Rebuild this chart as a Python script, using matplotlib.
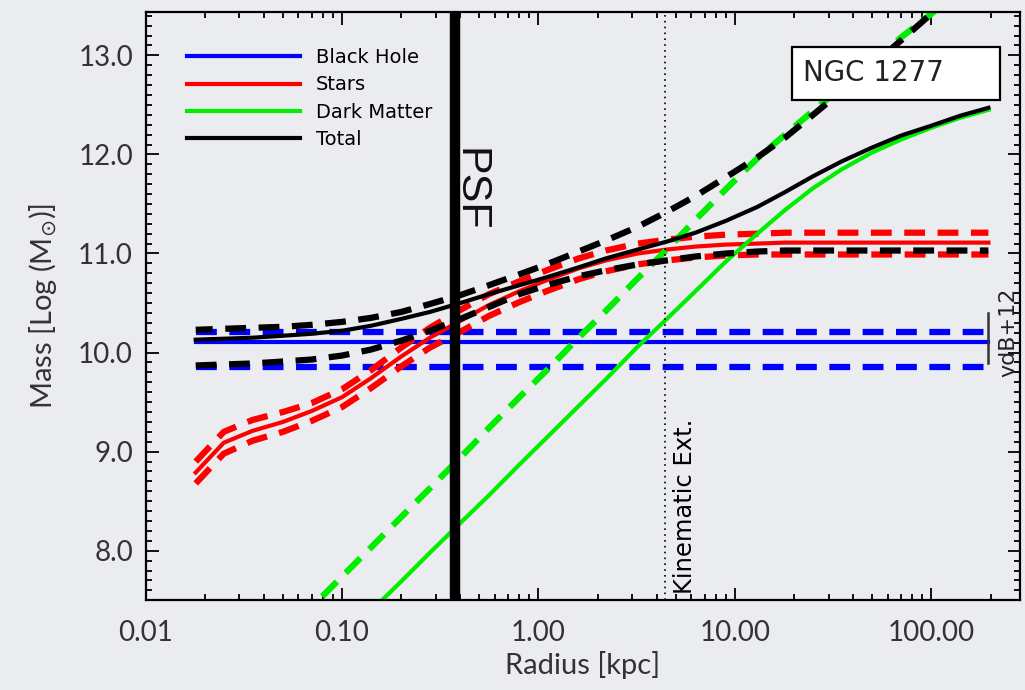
import numpy as np
import matplotlib.pyplot as plt
from matplotlib.ticker import FixedLocator, FormatStrFormatter, MultipleLocator, LogLocator, NullFormatter

# radius grid (kpc) and log mass profiles
radius = [0.018, 0.025, 0.035, 0.05, 0.07, 0.1, 0.14, 0.2, 0.28, 0.4, 0.56, 0.8, 1.1, 1.6,
          2.2, 3.2, 4.5, 6.3, 9, 13, 18, 25, 35, 50, 70, 100, 140, 195]

stars = [8.79, 9.09, 9.21, 9.30, 9.41, 9.55, 9.74, 9.96, 10.15, 10.32, 10.48, 10.62, 10.73, 10.85,
         10.93, 11.00, 11.04, 11.07, 11.09, 11.10, 11.11, 11.11, 11.11, 11.11, 11.11, 11.11, 11.11, 11.11]
stars_hi = [8.90, 9.20, 9.32, 9.40, 9.49, 9.63, 9.82, 10.05, 10.25, 10.43, 10.59, 10.72, 10.83, 10.95,
            11.03, 11.10, 11.14, 11.17, 11.19, 11.20, 11.21, 11.21, 11.21, 11.21, 11.21, 11.21, 11.21, 11.21]
stars_lo = [8.68, 8.98, 9.11, 9.20, 9.31, 9.45, 9.64, 9.86, 10.05, 10.21, 10.37, 10.51, 10.62, 10.74,
            10.82, 10.89, 10.93, 10.96, 10.98, 10.99, 10.99, 10.99, 10.99, 10.99, 10.99, 10.99, 10.99, 10.99]

dm = [5.65, 5.93, 6.22, 6.52, 6.81, 7.11, 7.39, 7.69, 7.98, 8.28, 8.56, 8.87, 9.14, 9.46,
      9.73, 10.06, 10.34, 10.62, 10.92, 11.20, 11.44, 11.66, 11.85, 12.02, 12.15, 12.27, 12.37, 12.45]
dm_hi = [6.25, 6.54, 6.83, 7.14, 7.43, 7.74, 8.03, 8.34, 8.63, 8.94, 9.24, 9.55, 9.82, 10.15,
         10.42, 10.75, 11.04, 11.34, 11.65, 11.96, 12.20, 12.44, 12.68, 12.93, 13.18, 13.42, 13.66, 13.90]

total = [10.13, 10.14, 10.15, 10.17, 10.19, 10.22, 10.27, 10.34, 10.41, 10.50, 10.59, 10.68, 10.76, 10.86,
         10.95, 11.04, 11.12, 11.21, 11.33, 11.47, 11.62, 11.78, 11.93, 12.07, 12.19, 12.29, 12.39, 12.47]
total_hi = [10.23, 10.24, 10.25, 10.26, 10.28, 10.31, 10.35, 10.41, 10.49, 10.58, 10.68, 10.79, 10.89, 11.02,
            11.13, 11.27, 11.42, 11.58, 11.77, 11.97, 12.17, 12.40, 12.64, 12.90, 13.15, 13.42, 13.66, 13.90]
total_lo = [9.87, 9.88, 9.89, 9.91, 9.93, 9.97, 10.03, 10.12, 10.22, 10.34, 10.46, 10.59, 10.68, 10.77,
            10.83, 10.89, 10.93, 10.97, 11.00, 11.02, 11.03, 11.03, 11.03, 11.03, 11.03, 11.03, 11.03, 11.03]

bh_mass = 10.11
bh_hi = 10.21
bh_lo = 9.85

psf_radius = 0.376
kinematic_radius = 4.4
vdb12_radius = 194
vdb12_range = [9.89, 10.40]

legend_labels = ['Black Hole', 'Stars', 'Dark Matter', 'Total']

bg = '#eaecef'
plt.rcParams['font.family'] = ['Lato', 'DejaVu Sans']

fig = plt.figure(figsize=(10.25, 6.9), dpi=100, facecolor=bg)
ax = fig.add_axes([0.142, 0.130, 0.853, 0.853], facecolor=bg)

lw_solid = 3.0
lw_dash = 4.5
dash = (0, (15.0 / lw_dash, 9.0 / lw_dash))

r = np.array(radius)
edges = [r[0], r[-1]]

# black hole
ax.plot(edges, [bh_mass, bh_mass], color='#0000ff', lw=lw_solid, label=legend_labels[0])
ax.plot(edges, [bh_hi, bh_hi], color='#0000ff', lw=lw_dash, ls=dash)
ax.plot(edges, [bh_lo, bh_lo], color='#0000ff', lw=lw_dash, ls=dash)

# stars
ax.plot(r, stars, color='#ff0000', lw=lw_solid, label=legend_labels[1])
ax.plot(r, stars_hi, color='#ff0000', lw=lw_dash, ls=dash)
ax.plot(r, stars_lo, color='#ff0000', lw=lw_dash, ls=dash)

# dark matter
ax.plot(r, dm, color='#00ee00', lw=lw_solid, label=legend_labels[2])
ax.plot(r, dm_hi, color='#00ee00', lw=lw_dash, ls=dash)

# total
ax.plot(r, total, color='black', lw=lw_solid, label=legend_labels[3])
ax.plot(r, total_hi, color='black', lw=lw_dash, ls=(0.6, (15.0 / lw_dash, 9.0 / lw_dash)))
ax.plot(r, total_lo, color='black', lw=lw_dash, ls=dash)

# PSF and kinematic extent
ax.axvline(psf_radius, color='black', lw=7.5, zorder=6)
ax.text(psf_radius * 1.19, 11.64, 'PSF', rotation=-90, fontsize=31, family='Liberation Sans',
        ha='center', va='center', color='#111111')
ax.axvline(kinematic_radius, color='black', lw=1.2, ls=(0, (1, 2.5)))
ax.text(kinematic_radius * 1.26, 7.56, 'Kinematic Ext.', rotation=90, fontsize=17.5,
        family='DejaVu Sans', ha='center', va='bottom')

# vdB+12 bar
ax.plot([vdb12_radius, vdb12_radius], vdb12_range, color='#333333', lw=1.8)
ax.text(vdb12_radius * 1.27, 10.2, 'vdB+12', rotation=90, fontsize=16,
        family='DejaVu Sans', ha='center', va='center', color='#222222')

# name box
ax.add_patch(plt.Rectangle((0.739, 0.850), 0.238, 0.0905, transform=ax.transAxes,
                           facecolor='white', edgecolor='black', lw=1.6, zorder=7))
ax.text(0.752, 0.896, 'NGC 1277', transform=ax.transAxes, fontsize=20, family='DejaVu Sans',
        ha='left', va='center', zorder=8, color='#222222')

ax.set_xscale('log')
ax.set_xlim(0.01, 282)
ax.set_ylim(7.5, 13.44)

ax.xaxis.set_major_locator(FixedLocator([0.01, 0.1, 1, 10, 100]))
ax.xaxis.set_major_formatter(FormatStrFormatter('%.2f'))
ax.xaxis.set_minor_locator(LogLocator(base=10, subs=np.arange(2, 10)))
ax.xaxis.set_minor_formatter(NullFormatter())
ax.yaxis.set_major_locator(MultipleLocator(1.0))
ax.yaxis.set_major_formatter(FormatStrFormatter('%.1f'))
ax.yaxis.set_minor_locator(MultipleLocator(0.1))

ax.tick_params(which='both', direction='in', top=True, right=True, width=1.3, colors='black',
               labelsize=20, labelcolor='#333333')
ax.tick_params(which='major', length=9)
ax.tick_params(axis='x', which='major', pad=14)
ax.tick_params(axis='y', which='major', pad=9)
ax.tick_params(which='minor', length=4.5)
for s in ax.spines.values():
    s.set_linewidth(1.6)

ax.set_xlabel('Radius [kpc]', fontsize=21, color='#333333', labelpad=4)
ax.set_ylabel(r'Mass [Log (M$_{\odot}$)]', fontsize=21, color='#333333', labelpad=14)

leg = ax.legend(loc='upper left', bbox_to_anchor=(0.0475, 0.938), frameon=False,
                handlelength=5.8, handletextpad=0.82, labelspacing=0.42,
                borderaxespad=0, borderpad=0, prop={'family': 'DejaVu Sans', 'size': 14})
for h in leg.get_lines():
    h.set_linewidth(3)

fig.savefig('out.png', dpi=100, facecolor=bg)
